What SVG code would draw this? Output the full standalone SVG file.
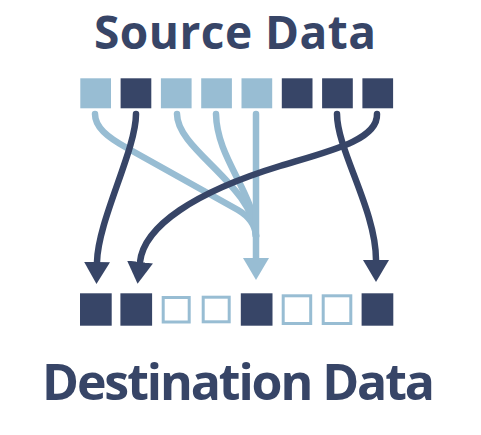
<svg xmlns="http://www.w3.org/2000/svg" width="481" height="435" viewBox="0 0 481 435">
  <style>
    .dark { fill: #374567; }
    .light { fill: #98bdd3; }
    .empty { fill: #ffffff; stroke: #98bdd3; stroke-width: 3; }
    .title { font-family: "Open Sans", "Liberation Sans", sans-serif; font-weight: 700; fill: #374567; }
    .ln { fill: none; stroke-width: 6.5; stroke-linecap: round; }
    .ld { stroke: #374567; }
    .ll { stroke: #98bdd3; }
  </style>
  <defs>
    <marker id="ahDark" markerUnits="userSpaceOnUse" markerWidth="22" markerHeight="26" viewBox="0 0 22 26" refX="0" refY="13" orient="auto">
      <path d="M0,0 L22,13 L0,26 Z" fill="#374567"/>
    </marker>
    <marker id="ahLight" markerUnits="userSpaceOnUse" markerWidth="22" markerHeight="26" viewBox="0 0 22 26" refX="0" refY="13" orient="auto">
      <path d="M0,0 L22,13 L0,26 Z" fill="#98bdd3"/>
    </marker>
  </defs>
  <rect width="481" height="435" fill="#ffffff"/>

  <g id="title-source">
    <text class="title" x="94" y="48.5" font-size="46" textLength="282" lengthAdjust="spacing">Source Data</text>
  </g>

  <g id="source-row">
    <rect id="src0" class="light" x="80.3" y="78.3" width="30.7" height="30"/>
    <rect id="src1" class="dark" x="120.6" y="78.3" width="30.7" height="30"/>
    <rect id="src2" class="light" x="160.9" y="78.3" width="30.7" height="30"/>
    <rect id="src3" class="light" x="201.2" y="78.3" width="30.7" height="30"/>
    <rect id="src4" class="light" x="241.5" y="78.3" width="30.7" height="30"/>
    <rect id="src5" class="dark" x="281.8" y="78.3" width="30.7" height="30"/>
    <rect id="src6" class="dark" x="322.1" y="78.3" width="30.7" height="30"/>
    <rect id="src7" class="dark" x="362.4" y="78.3" width="30.7" height="30"/>
  </g>

  <g id="connectors">
    <path class="ln ll" d="M95,114 C95,127 107,137 127,148 L238,210 Q255,220 256,236"/>
    <path class="ln ll" d="M177,114 C177,150 254,185 256,236"/>
    <path class="ln ll" d="M216,114 C217,160 255,192 256,236"/>
    <path class="ln ll" d="M256,114 L256,258" marker-end="url(#ahLight)"/>
    <path class="ln ld" d="M136,114 C136,150 98,220 97,262" marker-end="url(#ahDark)"/>
    <path class="ln ld" d="M377,114 C378,140 330,151 280,166 C195,192 144,226 140,262" marker-end="url(#ahDark)"/>
    <path class="ln ld" d="M337,114 C337,150 376,210 376,260" marker-end="url(#ahDark)"/>
  </g>

  <g id="destination-row">
    <rect id="dst0" class="dark" x="80" y="293.3" width="31.7" height="32.4"/>
    <rect id="dst1" class="dark" x="120.4" y="293.3" width="31.7" height="32.4"/>
    <rect id="dst2" class="empty" x="163.2" y="297.5" width="26" height="24.5"/>
    <rect id="dst3" class="empty" x="203.2" y="297.2" width="26" height="24.6"/>
    <rect id="dst4" class="dark" x="240.8" y="293.3" width="31.7" height="32.4"/>
    <rect id="dst5" class="empty" x="283.2" y="295.8" width="27.5" height="27.7"/>
    <rect id="dst6" class="empty" x="323.2" y="295.8" width="27.6" height="27.7"/>
    <rect id="dst7" class="dark" x="361.6" y="293.3" width="31.7" height="32.4"/>
  </g>

  <g id="title-destination">
    <text class="title" x="42" y="400" font-size="50" textLength="393" lengthAdjust="spacing">Destination Data</text>
  </g>
</svg>
